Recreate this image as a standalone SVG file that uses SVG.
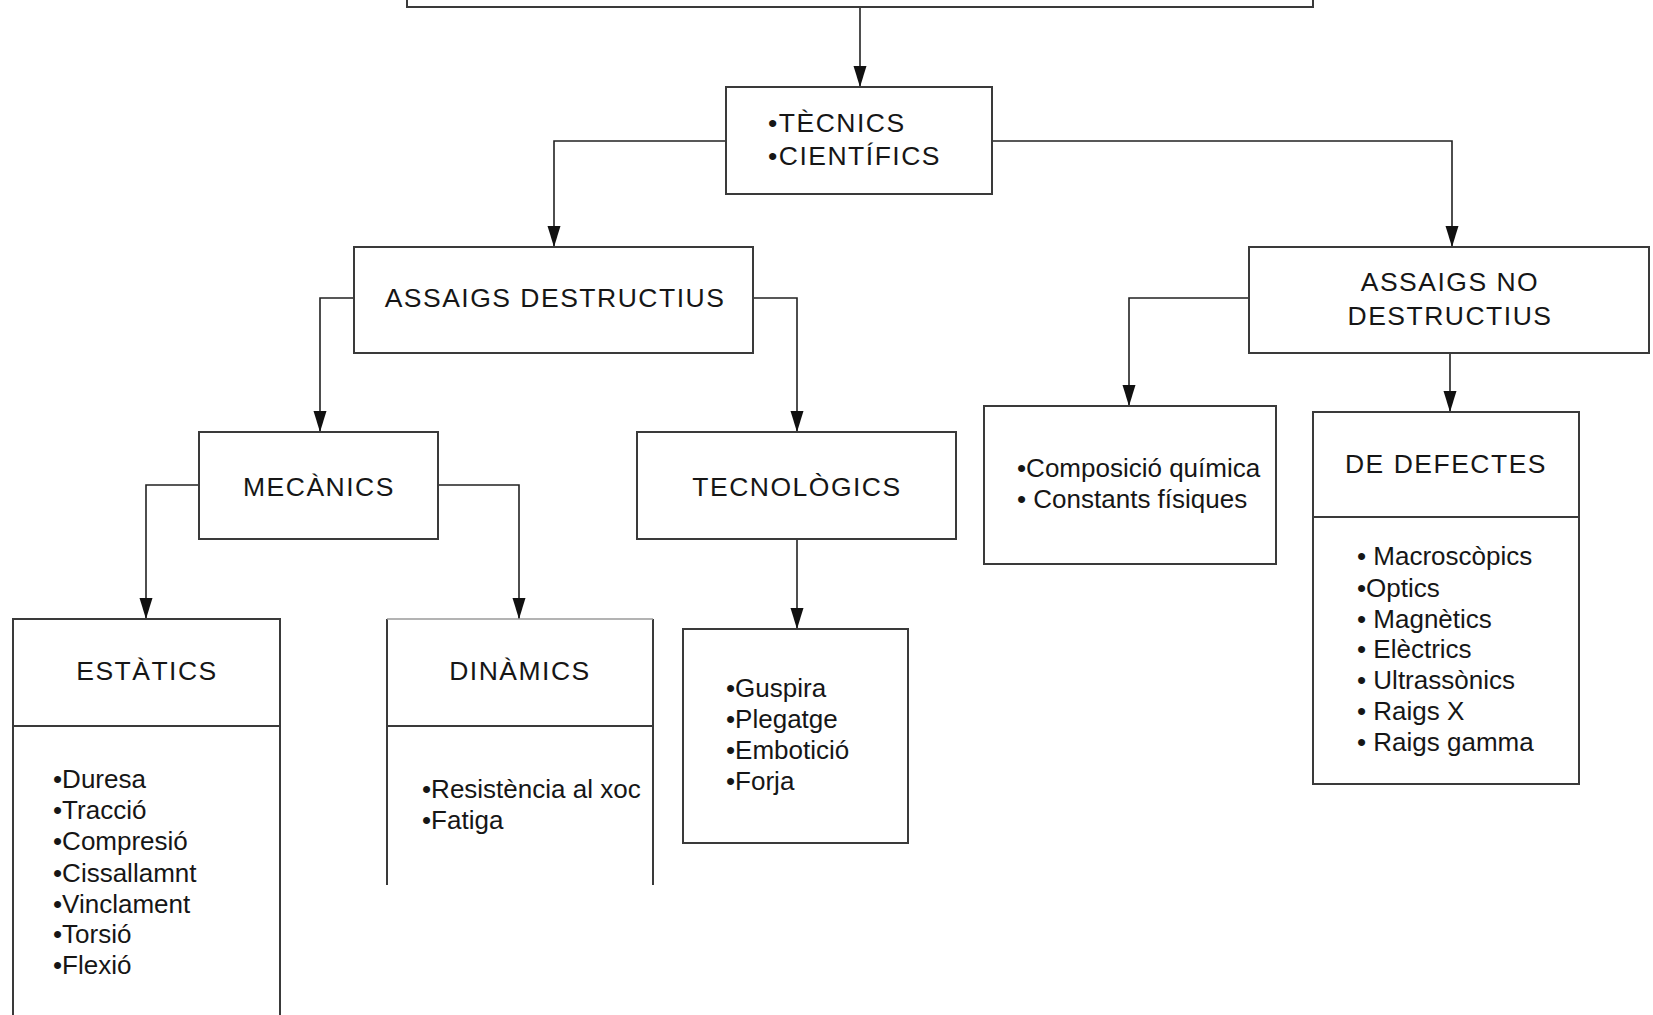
<svg xmlns="http://www.w3.org/2000/svg" width="1653" height="1015" viewBox="0 0 1653 1015">
<defs>
<marker id="ah" viewBox="0 -7 21 14" refX="21" refY="0" markerWidth="21" markerHeight="14" markerUnits="userSpaceOnUse" orient="auto">
<path d="M0,-6.5 L21,0 L0,6.5 z" fill="#111"/>
</marker>
</defs>
<style>
.box{fill:#fff;stroke:#3a3a3a;stroke-width:2}
.open{fill:none;stroke:#3a3a3a;stroke-width:2}
.con{fill:none;stroke:#222;stroke-width:1.6;marker-end:url(#ah)}
text{font-family:"Liberation Sans",Arial,sans-serif;fill:#161616}
.h{font-size:26.5px;letter-spacing:1.5px}
.c{text-anchor:middle}
.l{font-size:26px}
</style>
<rect width="1653" height="1015" fill="#fff"/>
<g id="connectors">
<path class="con" d="M860,7 V87"/>
<path class="con" d="M726,141 H554 V247"/>
<path class="con" d="M992,141 H1452 V247"/>
<path class="con" d="M354,298 H320 V432"/>
<path class="con" d="M753,298 H797 V432"/>
<path class="con" d="M199,485 H146 V619"/>
<path class="con" d="M438,485 H519 V619"/>
<path class="con" d="M797,538 V629"/>
<path class="con" d="M1249,298 H1129 V406"/>
<path class="con" d="M1450,353 V412"/>
</g>
<g id="top"><rect class="box" x="407" y="-20" width="906" height="27"/></g>
<g id="tecnics">
<rect class="box" x="726" y="87" width="266" height="107"/>
<text class="h" x="768" y="132">•TÈCNICS</text>
<text class="h" x="768" y="165">•CIENTÍFICS</text>
</g>
<g id="destructius">
<rect class="box" x="354" y="247" width="399" height="106"/>
<text class="h c" x="555" y="307">ASSAIGS DESTRUCTIUS</text>
</g>
<g id="nodestructius">
<rect class="box" x="1249" y="247" width="400" height="106"/>
<text class="h c" x="1450" y="291">ASSAIGS NO</text>
<text class="h c" x="1450" y="325">DESTRUCTIUS</text>
</g>
<g id="mecanics">
<rect class="box" x="199" y="432" width="239" height="107"/>
<text class="h c" x="319" y="496">MECÀNICS</text>
</g>
<g id="tecnologics">
<rect class="box" x="637" y="432" width="319" height="107"/>
<text class="h c" x="797" y="496">TECNOLÒGICS</text>
</g>
<g id="estatics">
<path class="open" d="M13,1030 V619 H280 V1030 M13,726 H280"/>
<text class="h c" x="147" y="680">ESTÀTICS</text>
<text class="l" x="53" y="788">•Duresa</text>
<text class="l" x="53" y="819">•Tracció</text>
<text class="l" x="53" y="850">•Compresió</text>
<text class="l" x="53" y="882">•Cissallamnt</text>
<text class="l" x="53" y="913">•Vinclament</text>
<text class="l" x="53" y="943">•Torsió</text>
<text class="l" x="53" y="974">•Flexió</text>
</g>
<g id="dinamics">
<path class="open" d="M387,885 V619 M653,619 V885 M387,726 H653"/>
<path d="M387,619 H653" fill="none" stroke="#9a9a9a" stroke-width="1.5"/>
<text class="h c" x="520" y="680">DINÀMICS</text>
<text class="l" x="422" y="798">•Resistència al xoc</text>
<text class="l" x="422" y="829">•Fatiga</text>
</g>
<g id="tecnologics-list">
<rect class="box" x="683" y="629" width="225" height="214"/>
<text class="l" x="726" y="697">•Guspira</text>
<text class="l" x="726" y="728">•Plegatge</text>
<text class="l" x="726" y="759">•Embotició</text>
<text class="l" x="726" y="790">•Forja</text>
</g>
<g id="composicio">
<rect class="box" x="984" y="406" width="292" height="158"/>
<text class="l" x="1017" y="477">•Composició química</text>
<text class="l" x="1017" y="508">• Constants físiques</text>
</g>
<g id="defectes">
<rect class="box" x="1313" y="412" width="266" height="372"/>
<path class="open" d="M1313,517 H1579"/>
<text class="h c" x="1446" y="473">DE DEFECTES</text>
<text class="l" x="1357" y="565">• Macroscòpics</text>
<text class="l" x="1357" y="597">•Optics</text>
<text class="l" x="1357" y="628">• Magnètics</text>
<text class="l" x="1357" y="658">• Elèctrics</text>
<text class="l" x="1357" y="689">• Ultrassònics</text>
<text class="l" x="1357" y="720">• Raigs X</text>
<text class="l" x="1357" y="751">• Raigs gamma</text>
</g>
</svg>
